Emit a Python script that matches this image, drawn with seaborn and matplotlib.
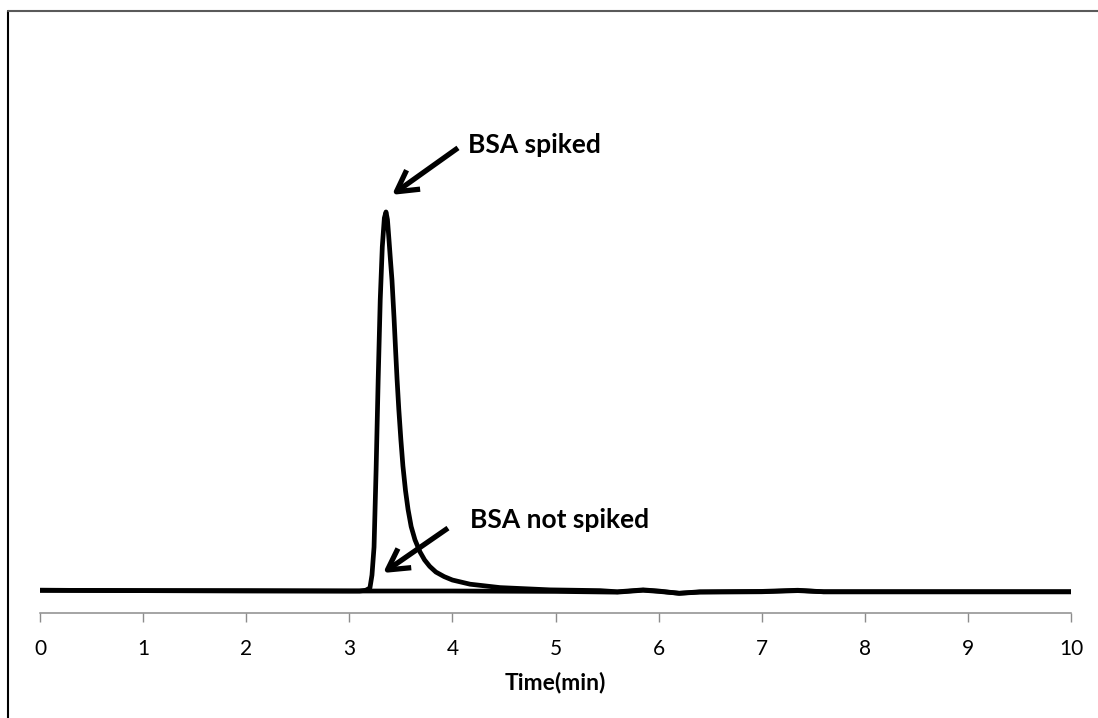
import numpy as np
import pandas as pd
import matplotlib
matplotlib.use("Agg")
import matplotlib.pyplot as plt
import seaborn as sns
from matplotlib.lines import Line2D

# ---- data ----
spiked_time = [0.0, 1.0, 2.0, 3.0, 3.10, 3.16, 3.20, 3.22, 3.24, 3.26, 3.28, 3.30, 3.32, 3.34, 3.356,
               3.37, 3.385, 3.40, 3.414, 3.434, 3.45, 3.463, 3.48, 3.50, 3.52, 3.545, 3.57, 3.60,
               3.637, 3.686, 3.73, 3.78, 3.84, 3.92, 4.00, 4.171, 4.462, 4.947, 5.432,
               5.6, 5.85, 6.0, 6.2, 6.4, 7.0, 7.35, 7.6, 8.0, 9.0, 10.0]
spiked_signal = [0.2, 0.1, 0.1, 0.0, 0.0, 0.2, 0.8, 4.2, 11.6, 32.0, 55.7, 76.8, 90.8, 98.4, 100.0,
                 98.0, 92.6, 87.0, 82.0, 72.0, 63.0, 56.0, 48.0, 40.0, 33.0, 26.5, 21.5, 17.0,
                 13.5, 10.3, 8.2, 6.5, 5.0, 3.8, 2.9, 1.8, 0.9, 0.3, 0.1,
                 -0.2, 0.3, 0.0, -0.6, -0.2, -0.1, 0.2, -0.2, -0.2, -0.2, -0.2]

blank_time = [0.0, 1.0, 2.0, 3.0, 4.0, 5.0, 5.6, 5.85, 6.0, 6.2, 6.4, 7.0, 7.35, 7.6, 8.0, 9.0, 10.0]
blank_signal = [0.2, 0.1, 0.0, 0.0, 0.0, -0.1, -0.3, 0.2, -0.1, -0.6, -0.3, -0.2, 0.1, -0.2, -0.2, -0.2, -0.2]

xticks = list(range(0, 11))
x_label = "Time(min)"
label_spiked = "BSA spiked"
label_blank = "BSA not spiked"

sns.set_style("white")
plt.rcParams['font.family'] = ['Lato', 'DejaVu Sans']

W, H = 1098, 718
fig = plt.figure(figsize=(W / 100, H / 100), dpi=100)
ax = fig.add_axes([40 / W, 1 - 613 / H, (1071 - 40) / W, (613 - 30) / H])

df_s = pd.DataFrame({"t": spiked_time, "v": spiked_signal})
df_b = pd.DataFrame({"t": blank_time, "v": blank_signal})
sns.lineplot(data=df_b, x="t", y="v", ax=ax, color="black", linewidth=3.4, sort=False)
sns.lineplot(data=df_s, x="t", y="v", ax=ax, color="black", linewidth=3.4, sort=False)

ax.set_xlim(0, 10)
ax.set_ylim(-5.8, 148)
ax.set_xticks(xticks)
ax.set_xticklabels([str(t) for t in xticks])
ax.set_yticks([])
ax.set_ylabel("")
for s in ["top", "right", "left"]:
    ax.spines[s].set_visible(False)
ax.spines["bottom"].set_color("#8c8c8c")
ax.spines["bottom"].set_linewidth(1.1)
ax.tick_params(axis="x", bottom=True, direction="out", length=6.5, width=1.0,
               color="#8c8c8c", pad=12.5, labelsize=15, labelcolor="black")
ax.set_xlabel(x_label, fontsize=16.5, fontweight="bold", labelpad=9, color="black")

# annotations: arrows and labels
arrow_kw = dict(arrowstyle="->,head_length=0.75,head_width=0.42", color="black",
                lw=3.8, shrinkA=0, shrinkB=0, mutation_scale=20, capstyle="butt")
ax.annotate("", xy=(3.414, 104.5), xytext=(4.054, 116.9), arrowprops=arrow_kw)
ax.annotate("", xy=(3.327, 4.75), xytext=(3.957, 16.6), arrowprops=arrow_kw)
ax.text(4.151, 117.7, label_spiked, fontsize=19, fontweight="bold", va="center", ha="left",
        color="black")
ax.text(4.171, 18.7, label_blank, fontsize=19, fontweight="bold", va="center", ha="left",
        color="black")

# outer chart-area border (partially cropped)
fig.add_artist(Line2D([7.5 / W, 7.5 / W], [0, 1 - 10.5 / H], transform=fig.transFigure,
                      color="black", lw=1.5))
fig.add_artist(Line2D([7.5 / W, 1.0], [1 - 10.5 / H, 1 - 10.5 / H], transform=fig.transFigure,
                      color="#5a5a5a", lw=1.5))

fig.savefig("out.png", dpi=100, facecolor="white")
